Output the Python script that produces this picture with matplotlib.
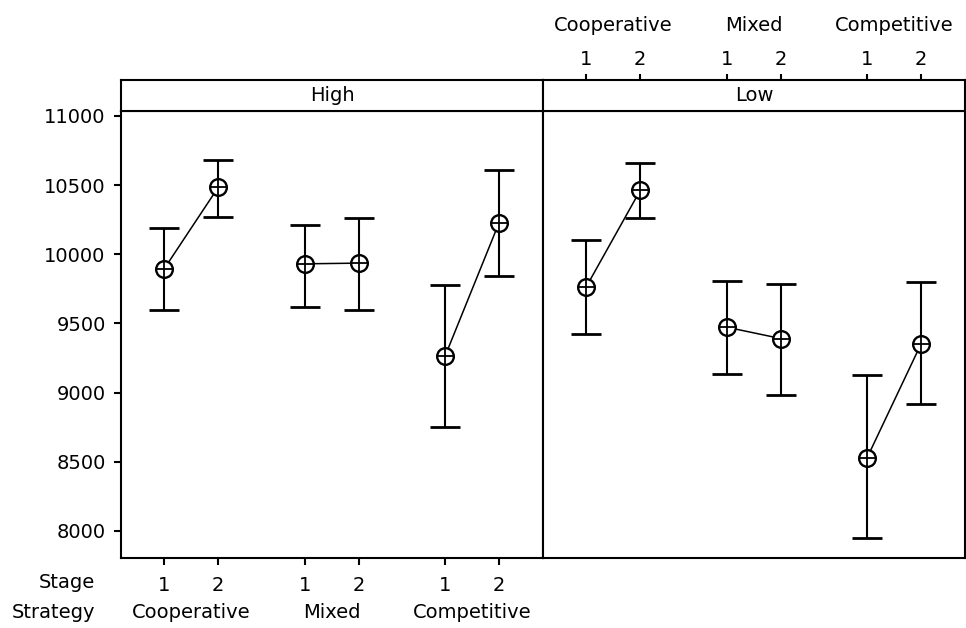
import matplotlib
matplotlib.use("Agg")
import matplotlib.pyplot as plt

plt.rcParams['font.family'] = ['DejaVu Sans']
plt.rcParams['font.size'] = 14

strategies = ['Cooperative', 'Mixed', 'Competitive']
stages = ['1', '2']
panels = ['High', 'Low']

# mean and interval ends, ordered Coop1, Coop2, Mixed1, Mixed2, Comp1, Comp2
means = {
    'High': [9895, 10484, 9931, 9936, 9262, 10227],
    'Low':  [9764, 10462, 9473, 9391, 8527, 9351],
}
lower = {
    'High': [9596, 10273, 9618, 9596, 8753, 9844],
    'Low':  [9420, 10263, 9138, 8983, 7945, 8918],
}
upper = {
    'High': [10193, 10680, 10215, 10263, 9778, 10607],
    'Low':  [10103, 10658, 9807, 9788, 9124, 9800],
}

W, H = 966, 628
fig = plt.figure(figsize=(W / 100, H / 100), dpi=100)

left_px, panel_w = 121, 422
plot_top, plot_bot, strip_top = 111, 558, 80

def frac_box(x0, y_top, w, h):
    return [x0 / W, 1 - (y_top + h) / H, w / W, h / H]

# x position of each (strategy, stage) pair
gap = 2.6
xpos = []
for g in range(len(strategies)):
    for s in range(len(stages)):
        xpos.append(g * gap + s)
xlim = (-0.80, 7.015)
ylim = (7804, 11036)
lw = 1.5

for p, name in enumerate(panels):
    x0 = left_px + p * panel_w
    ax = fig.add_axes(frac_box(x0, plot_top, panel_w, plot_bot - plot_top))
    st = fig.add_axes(frac_box(x0, strip_top, panel_w, plot_top - strip_top))

    m, lo, hi = means[name], lower[name], upper[name]
    for g in range(len(strategies)):
        i = slice(2 * g, 2 * g + 2)
        xs, ms = xpos[i], m[i]
        err = [[a - b for a, b in zip(ms, lo[i])], [b - a for a, b in zip(ms, hi[i])]]
        ax.errorbar(xs, ms, yerr=err, fmt='none', ecolor='black',
                    elinewidth=1.5, capsize=11, capthick=2)
        ax.plot(xs, ms, color='black', lw=1.1)
        ax.plot(xs, ms, 'o', ms=12, mfc='white', mec='black', mew=1.7)
        ax.plot(xs, ms, '+', ms=11, mec='black', mew=1.3)

    ax.set_xlim(*xlim)
    ax.set_ylim(*ylim)
    st.set_xlim(*xlim)
    st.set_ylim(0, 1)
    st.text(0.5, 0.5, name, ha='center', va='center', transform=st.transAxes)
    st.set_yticks([])

    for a in (ax, st):
        for sp in a.spines.values():
            sp.set_linewidth(lw)

    if p == 0:
        ax.set_yticks([8000, 8500, 9000, 9500, 10000, 10500, 11000])
        ax.tick_params(axis='y', length=5, width=lw, pad=6)
        ax.set_xticks(xpos, [s for _ in strategies for s in stages])
        ax.tick_params(axis='x', length=5, width=lw, pad=8)
        for g, lab in enumerate(strategies):
            ax.annotate(lab, xy=(g * gap + 0.5, 0), xycoords=('data', 'axes fraction'),
                        xytext=(0, -39), textcoords='offset points',
                        ha='center', va='center')
        st.set_xticks([])
    else:
        ax.set_yticks([])
        ax.set_xticks([])
        st.xaxis.tick_top()
        st.set_xticks(xpos, [s for _ in strategies for s in stages])
        st.tick_params(axis='x', length=4, width=lw, pad=4)
        for g, lab in enumerate(strategies):
            st.annotate(lab, xy=(g * gap + 0.5, 1), xycoords=('data', 'axes fraction'),
                        xytext=(0, 39), textcoords='offset points',
                        ha='center', va='center')

fig.text(95 / W, 1 - 582 / H, 'Stage', ha='right', va='center')
fig.text(95 / W, 1 - 612 / H, 'Strategy', ha='right', va='center')

fig.savefig('out.png', dpi=100)
